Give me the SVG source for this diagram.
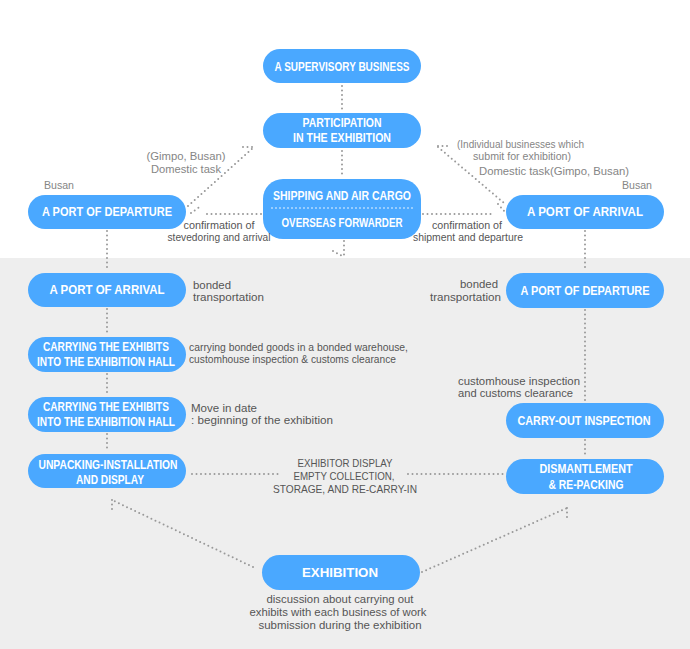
<svg xmlns="http://www.w3.org/2000/svg" width="690" height="649" viewBox="0 0 690 649">
<style>
.n{fill:#4aa8ff}
.t{font-family:"Liberation Sans",Arial,sans-serif;font-weight:bold;font-size:12px;fill:#fff;text-anchor:middle}
.a{font-family:"Liberation Sans",Arial,sans-serif;font-size:10.5px;fill:#555}
.g{fill:#858585}
.m{text-anchor:middle}
.e{text-anchor:end}
.c{fill:none;stroke:#999;stroke-width:2;stroke-linecap:round;stroke-dasharray:0 4.5}
.w{fill:none;stroke:#fff;stroke-width:1.6;stroke-linecap:round;stroke-dasharray:0 4}
</style>
<rect x="0" y="0" width="690" height="649" fill="#fff"/>
<rect x="0" y="258" width="690" height="391" fill="#eeeeee"/>

<g id="connectors">
<path class="c" d="M342,86 V111"/>
<path class="c" d="M342,151 V177"/>
<path class="c" d="M344,241 V257 M333,251 L344,257"/>
<path class="c" d="M261,214 H205 M191,213 L201,206"/>
<path class="c" d="M423,214 H494 M498,204 L505,212"/>
<path class="c" d="M188,206 L253,148 M243,147 H253"/>
<path class="c" d="M438,147 L504,203 M438,146 H451"/>
<path class="c" d="M107,231 V271 M107,309 V335 M107,374 V395 M107,434 V452"/>
<path class="c" d="M585,231 V271 M585,310 V401 M585,440 V457"/>
<path class="c" d="M192,474 H281 M408,474 H503"/>
<path class="c" d="M253,567 L112,500 M112,500 V511"/>
<path class="c" d="M422,572 L567,508 M567,508 V519"/>
</g>

<g id="n-supervisory">
<rect class="n" x="263" y="49" width="158" height="34" rx="17"/>
<text class="t" x="342" y="71" textLength="135" lengthAdjust="spacingAndGlyphs">A SUPERVISORY BUSINESS</text>
</g>
<g id="n-participation">
<rect class="n" x="263" y="113" width="158" height="35" rx="17.5"/>
<text class="t" x="342" y="127" textLength="79" lengthAdjust="spacingAndGlyphs">PARTICIPATION</text>
<text class="t" x="342" y="142" textLength="98" lengthAdjust="spacingAndGlyphs">IN THE EXHIBITION</text>
</g>
<g id="n-shipping">
<rect class="n" x="263" y="179" width="158" height="60" rx="20"/>
<text class="t" x="342" y="200" textLength="138" lengthAdjust="spacingAndGlyphs">SHIPPING AND AIR CARGO</text>
<path class="w" d="M272,208 H413"/>
<text class="t" x="342" y="227" textLength="121" lengthAdjust="spacingAndGlyphs">OVERSEAS FORWARDER</text>
</g>
<g id="n-departure-top">
<rect class="n" x="28" y="195" width="158" height="34" rx="17"/>
<text class="t" x="107" y="216" textLength="130" lengthAdjust="spacingAndGlyphs">A PORT OF DEPARTURE</text>
</g>
<g id="n-arrival-top">
<rect class="n" x="506" y="195" width="158" height="34" rx="17"/>
<text class="t" x="585" y="216" textLength="116" lengthAdjust="spacingAndGlyphs">A PORT OF ARRIVAL</text>
</g>
<g id="n-arrival-left">
<rect class="n" x="28" y="273" width="158" height="34" rx="17"/>
<text class="t" x="107" y="294" textLength="115" lengthAdjust="spacingAndGlyphs">A PORT OF ARRIVAL</text>
</g>
<g id="n-departure-right">
<rect class="n" x="506" y="273" width="158" height="35" rx="17.5"/>
<text class="t" x="585" y="295" textLength="129" lengthAdjust="spacingAndGlyphs">A PORT OF DEPARTURE</text>
</g>
<g id="n-carrying-1">
<rect class="n" x="28" y="337" width="158" height="35" rx="17.5"/>
<text class="t" x="106" y="351" textLength="126" lengthAdjust="spacingAndGlyphs">CARRYING THE EXHIBITS</text>
<text class="t" x="106" y="366" textLength="138" lengthAdjust="spacingAndGlyphs">INTO THE EXHIBITION HALL</text>
</g>
<g id="n-carrying-2">
<rect class="n" x="28" y="397" width="158" height="35" rx="17.5"/>
<text class="t" x="106" y="411" textLength="126" lengthAdjust="spacingAndGlyphs">CARRYING THE EXHIBITS</text>
<text class="t" x="106" y="426" textLength="138" lengthAdjust="spacingAndGlyphs">INTO THE EXHIBITION HALL</text>
</g>
<g id="n-unpacking">
<rect class="n" x="28" y="454" width="158" height="34" rx="17"/>
<text class="t" x="108" y="469" textLength="139" lengthAdjust="spacingAndGlyphs">UNPACKING-INSTALLATION</text>
<text class="t" x="110" y="484" textLength="68" lengthAdjust="spacingAndGlyphs">AND DISPLAY</text>
</g>
<g id="n-carryout">
<rect class="n" x="506" y="403" width="158" height="35" rx="17.5"/>
<text class="t" x="584" y="425" textLength="133" lengthAdjust="spacingAndGlyphs">CARRY-OUT INSPECTION</text>
</g>
<g id="n-dismantlement">
<rect class="n" x="506" y="459" width="158" height="35" rx="17.5"/>
<text class="t" x="586" y="473" textLength="93" lengthAdjust="spacingAndGlyphs">DISMANTLEMENT</text>
<text class="t" x="586" y="489" textLength="75" lengthAdjust="spacingAndGlyphs">&amp; RE-PACKING</text>
</g>
<g id="n-exhibition">
<rect class="n" x="262" y="555" width="158" height="35" rx="17.5"/>
<text class="t" x="340" y="577" textLength="76" lengthAdjust="spacingAndGlyphs">EXHIBITION</text>
</g>

<g id="labels">
<text class="a g m" x="186" y="160" textLength="79" lengthAdjust="spacingAndGlyphs">(Gimpo, Busan)</text>
<text class="a g m" x="186" y="173" textLength="70" lengthAdjust="spacingAndGlyphs">Domestic task</text>
<text class="a g" x="44" y="189" textLength="30" lengthAdjust="spacingAndGlyphs">Busan</text>
<text class="a m" x="219" y="229" textLength="71" lengthAdjust="spacingAndGlyphs">confirmation of</text>
<text class="a m" x="219" y="241" textLength="103" lengthAdjust="spacingAndGlyphs">stevedoring and arrival</text>
<text class="a g" x="457" y="148" textLength="127" lengthAdjust="spacingAndGlyphs">(Individual businesses which</text>
<text class="a g" x="473" y="160" textLength="98" lengthAdjust="spacingAndGlyphs">submit for exhibition)</text>
<text class="a g" x="479" y="175" textLength="150" lengthAdjust="spacingAndGlyphs">Domestic task(Gimpo, Busan)</text>
<text class="a g" x="622" y="189" textLength="30" lengthAdjust="spacingAndGlyphs">Busan</text>
<text class="a m" x="467" y="229" textLength="70" lengthAdjust="spacingAndGlyphs">confirmation of</text>
<text class="a m" x="468" y="241" textLength="110" lengthAdjust="spacingAndGlyphs">shipment and departure</text>
<text class="a" x="193" y="289" textLength="38" lengthAdjust="spacingAndGlyphs">bonded</text>
<text class="a" x="193" y="301" textLength="71" lengthAdjust="spacingAndGlyphs">transportation</text>
<text class="a e" x="498" y="288" textLength="38" lengthAdjust="spacingAndGlyphs">bonded</text>
<text class="a e" x="501" y="301" textLength="71" lengthAdjust="spacingAndGlyphs">transportation</text>
<text class="a" x="189" y="351" textLength="219" lengthAdjust="spacingAndGlyphs">carrying bonded goods in a bonded warehouse,</text>
<text class="a" x="189" y="363" textLength="207" lengthAdjust="spacingAndGlyphs">customhouse inspection &amp; customs clearance</text>
<text class="a" x="191" y="412" textLength="66" lengthAdjust="spacingAndGlyphs">Move in date</text>
<text class="a" x="191" y="424" textLength="142" lengthAdjust="spacingAndGlyphs">: beginning of the exhibition</text>
<text class="a m" x="345" y="467" textLength="95" lengthAdjust="spacingAndGlyphs">EXHIBITOR DISPLAY</text>
<text class="a m" x="344" y="480" textLength="101" lengthAdjust="spacingAndGlyphs">EMPTY COLLECTION,</text>
<text class="a m" x="345" y="493" textLength="144" lengthAdjust="spacingAndGlyphs">STORAGE, AND RE-CARRY-IN</text>
<text class="a" x="458" y="385" textLength="122" lengthAdjust="spacingAndGlyphs">customhouse inspection</text>
<text class="a" x="458" y="397" textLength="115" lengthAdjust="spacingAndGlyphs">and customs clearance</text>
<text class="a m" x="340" y="603" textLength="147" lengthAdjust="spacingAndGlyphs">discussion about carrying out</text>
<text class="a m" x="338" y="616" textLength="177" lengthAdjust="spacingAndGlyphs">exhibits with each business of work</text>
<text class="a m" x="340" y="629" textLength="163" lengthAdjust="spacingAndGlyphs">submission during the exhibition</text>
</g>
</svg>
